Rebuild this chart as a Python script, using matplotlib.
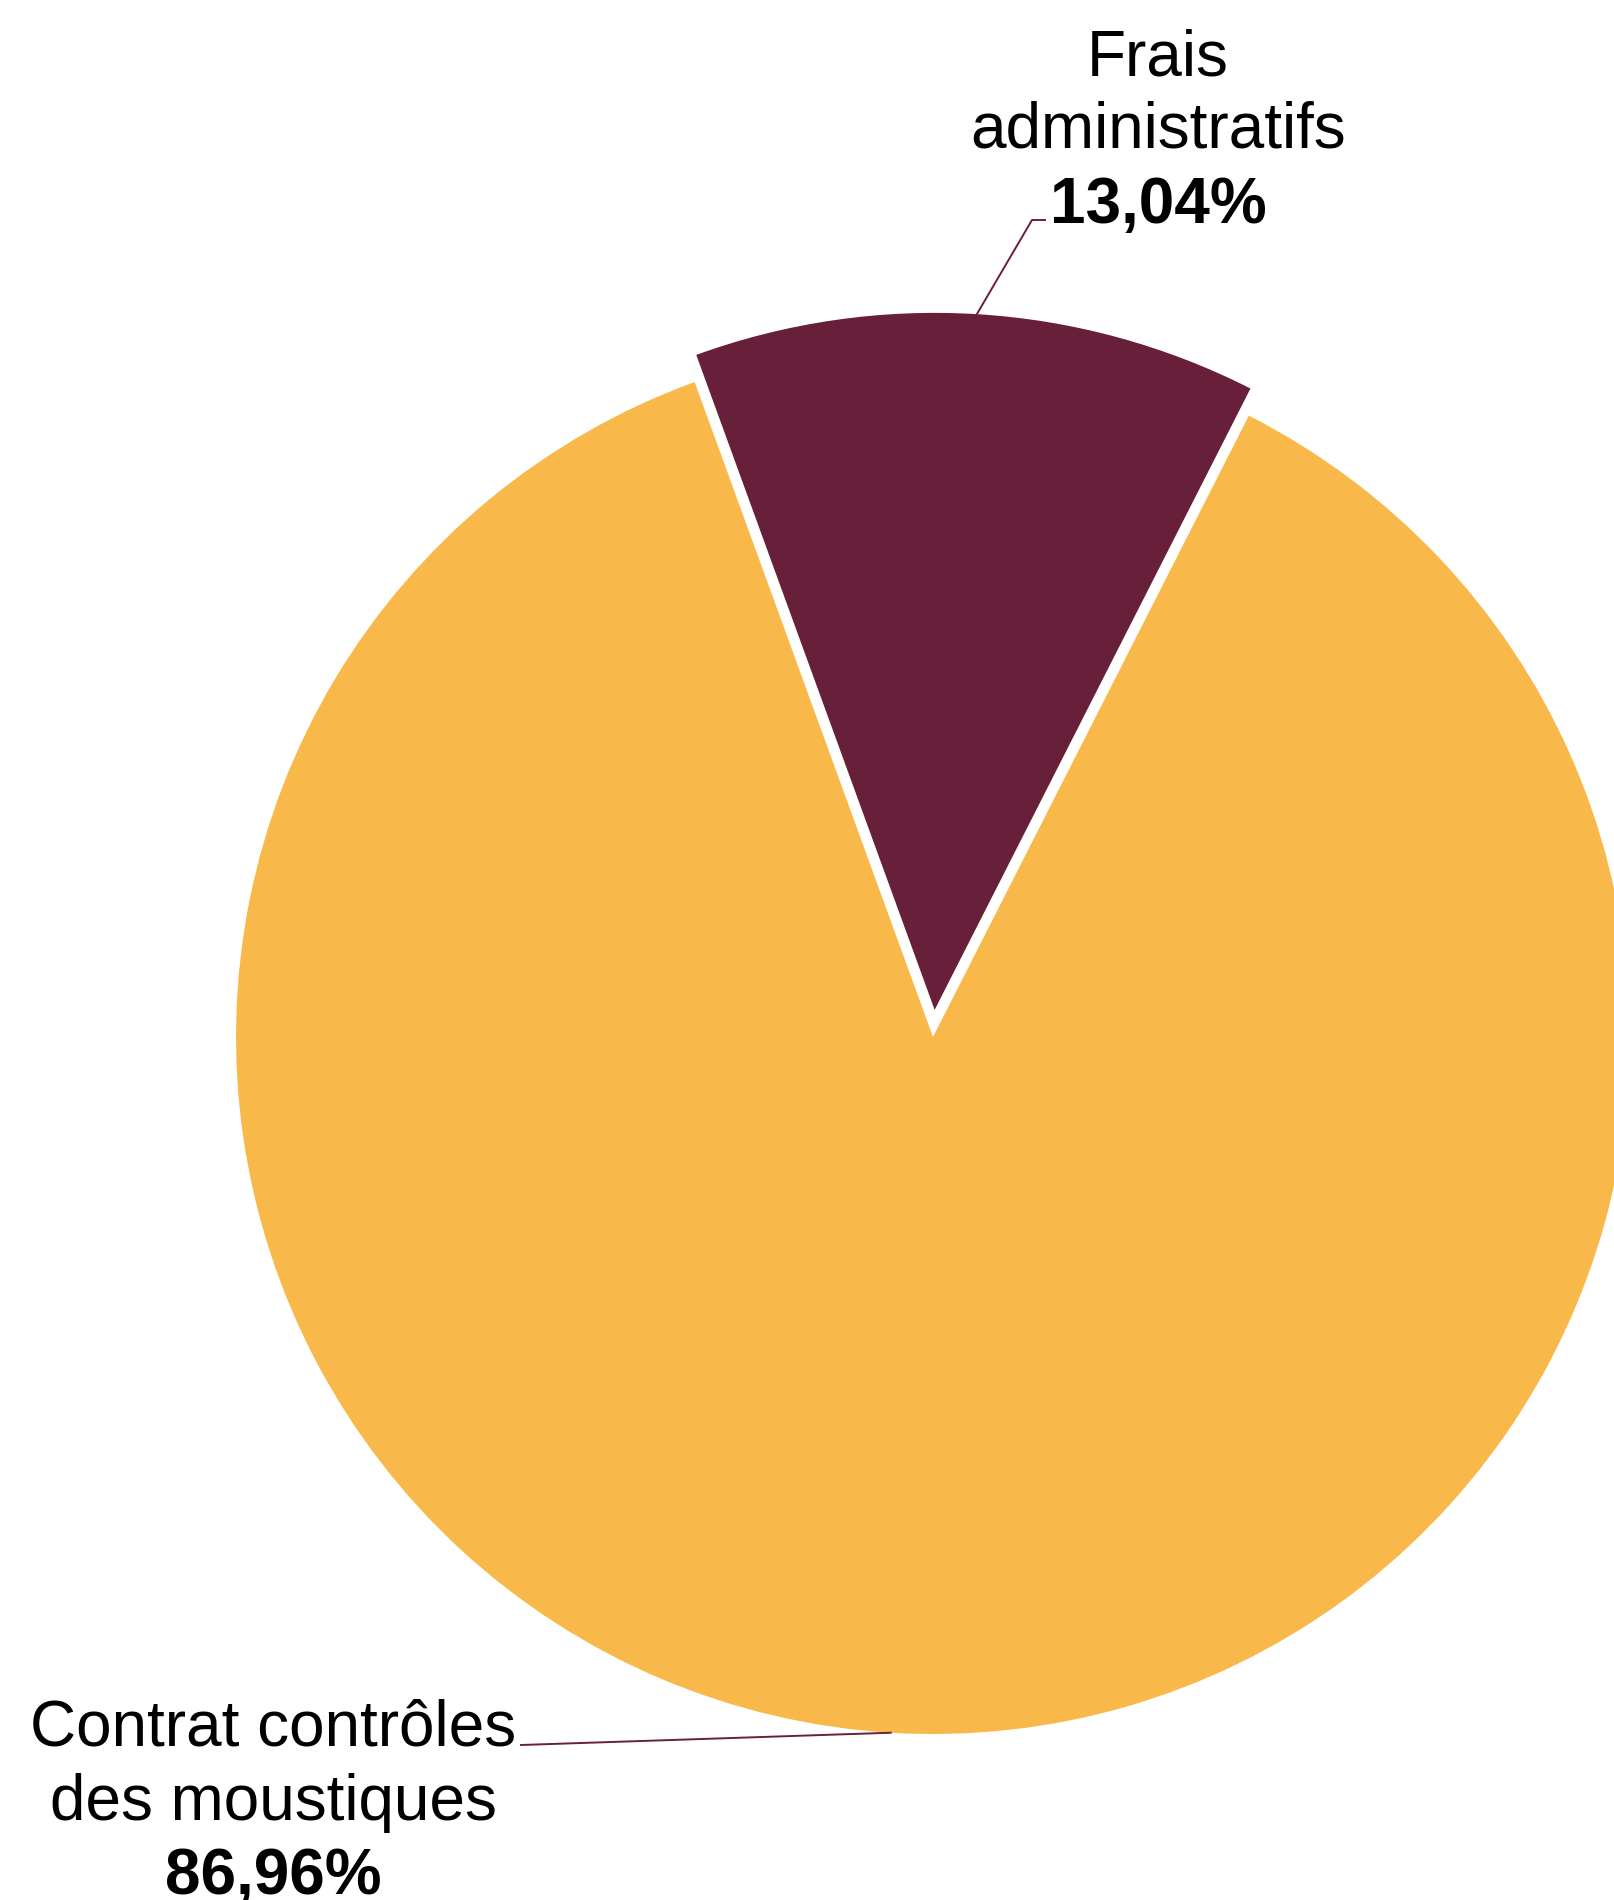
import numpy as np
import matplotlib
matplotlib.use("Agg")
import matplotlib.pyplot as plt

labels = ["Frais\nadministratifs", "Contrat contrôles\ndes moustiques"]
values = [13.04, 86.96]
colors = ["#68203A", "#F8B94A"]
explode = [0.039, 0.0]

W, H = 1614, 1900
plt.rcParams['font.family'] = ['Liberation Sans', 'DejaVu Sans']

fig = plt.figure(figsize=(W / 100, H / 100), dpi=100)
ax = fig.add_axes([0, 0, 1, 1])

cx, cy, r = 933, H - 1037, 697
# pie adds explode offsets in data units, so scale them by the radius
wedges, _ = ax.pie(values, colors=colors, explode=[e * r for e in explode],
                   startangle=110, counterclock=False, center=(cx, cy),
                   radius=r, frame=True)
ax.set_xlim(0, W)
ax.set_ylim(0, H)
ax.set_aspect('equal')
ax.axis('off')


def arc_mid(w):
    t = np.deg2rad((w.theta1 + w.theta2) / 2)
    return w.center[0] + w.r * np.cos(t), w.center[1] + w.r * np.sin(t)


fs = 46
line_col = colors[0]

# label positions (x centre, baselines of the lines)
label_pos = [(1158, [H - 75, H - 148, H - 223]),
             (273, [H - 1745, H - 1820, H - 1894])]

for w, lab, v, (lx, bases) in zip(wedges, labels, values, label_pos):
    for txt, b in zip(lab.split("\n"), bases[:2]):
        ax.text(lx, b, txt, ha='center', va='baseline', fontsize=fs)
    pct = f"{v:.2f}".replace('.', ',') + '%'
    ax.text(lx, bases[2], pct, ha='center', va='baseline', fontsize=fs,
            fontweight='bold')

# leader lines
x0, y0 = arc_mid(wedges[0])
ax.plot([x0, 1032, 1045], [y0, H - 220, H - 220], color=line_col, lw=1.4)
x1, y1 = arc_mid(wedges[1])
ax.plot([x1, 521], [y1, H - 1745], color=line_col, lw=1.4)

fig.savefig("out.png", dpi=100)
